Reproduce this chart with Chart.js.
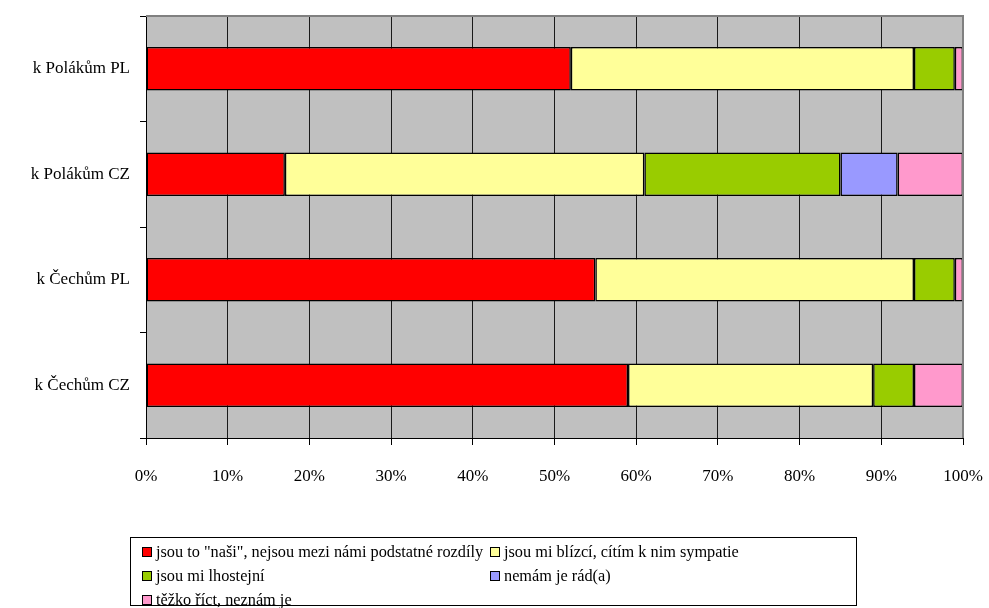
<!DOCTYPE html>
<html>
<head>
<meta charset="utf-8">
<script src="https://cdn.jsdelivr.net/npm/chart.js@4.4.1/dist/chart.umd.min.js"></script>
<style>
  html, body { margin: 0; padding: 0; background: #fff; }
  #wrap { position: relative; width: 989px; height: 608px; }
  #legend {
    position: absolute; left: 130px; top: 537px; width: 727px; height: 69px;
    border: 1px solid #000; box-sizing: border-box;
    display: grid; grid-template-columns: 348px auto; grid-auto-rows: 24px;
    padding: 2px 0 0 11px;
    font-family: "Liberation Serif", "Times New Roman", serif; font-size: 16.3px; color: #000;
  }
  #legend .item { display: flex; align-items: center; white-space: nowrap; overflow: visible; }
  #legend .box { flex: 0 0 auto; width: 8px; height: 8px; border: 1px solid #000; margin-right: 4px; }
</style>
</head>
<body>
<div id="wrap">
  <canvas id="chart" width="989" height="608"></canvas>
  <div id="legend"></div>
</div>
<script>
const categories = ['k Polákům PL', 'k Polákům CZ', 'k Čechům PL', 'k Čechům CZ'];
const seriesNames = [
  'jsou to "naši", nejsou mezi námi podstatné rozdíly',
  'jsou mi blízcí, cítím k nim sympatie',
  'jsou mi lhostejní',
  'nemám je rád(a)',
  'těžko říct, neznám je'
];
const nasi = [52, 17, 55, 59];
const blizci = [42, 44, 39, 30];
const lhostejni = [5, 24, 5, 5];
const nemam = [0, 7, 0, 0];
const tezko = [1, 8, 1, 6];
const colors = ['#ff0000', '#ffff99', '#99cc00', '#9999ff', '#ff99cc'];
const xTicks = [0, 10, 20, 30, 40, 50, 60, 70, 80, 90, 100];

const font = { family: '"Liberation Serif", "Times New Roman", serif', size: 17 };

const plotFrame = {
  id: 'plotFrame',
  beforeDraw(chart) {
    const { ctx, chartArea: a } = chart;
    ctx.save();
    ctx.fillStyle = '#c0c0c0';
    ctx.fillRect(a.left, a.top, a.right - a.left, a.bottom - a.top);
    ctx.restore();
  },
  afterDatasetsDraw(chart) {
    const { ctx, chartArea: a } = chart;
    ctx.save();
    ctx.strokeStyle = '#808080';
    ctx.lineWidth = 2;
    ctx.beginPath();
    ctx.moveTo(a.left, a.top);
    ctx.lineTo(a.right, a.top);
    ctx.lineTo(a.right, a.bottom);
    ctx.stroke();
    ctx.restore();
  }
};

const values = [nasi, blizci, lhostejni, nemam, tezko];

new Chart(document.getElementById('chart'), {
  type: 'bar',
  data: {
    labels: categories,
    datasets: values.map((data, i) => ({
      label: seriesNames[i],
      data,
      backgroundColor: colors[i],
      borderColor: '#000',
      borderWidth: 1.5,
      borderSkipped: false,
      barPercentage: 0.41,
      categoryPercentage: 1
    }))
  },
  options: {
    indexAxis: 'y',
    responsive: false,
    animation: false,
    layout: { padding: { top: 16, right: 26, left: 0, bottom: 120 } },
    plugins: { legend: { display: false }, tooltip: { enabled: false } },
    scales: {
      x: {
        stacked: true,
        min: 0,
        max: 100,
        afterBuildTicks: (scale) => { scale.ticks = xTicks.map((v) => ({ value: v })); },
        afterFit: (scale) => { scale.height = 50; scale.paddingLeft = 0; scale.paddingRight = 0; },
        ticks: { color: '#000', font, padding: 21, maxRotation: 0, callback: (v) => v + '%' },
        grid: { color: '#1a1a1a', lineWidth: 1, tickLength: 7, tickColor: '#000' },
        border: { color: '#000', width: 1 }
      },
      y: {
        stacked: true,
        afterFit: (scale) => { scale.width = 146; scale.paddingTop = 0; scale.paddingBottom = 0; },
        ticks: { color: '#000', font, padding: 10 },
        grid: { offset: true, drawOnChartArea: false, tickLength: 6, tickColor: '#000' },
        border: { color: '#000', width: 1 }
      }
    }
  },
  plugins: [plotFrame]
});

document.getElementById('legend').innerHTML = seriesNames
  .map((name, i) => {
    const col = i === 3 ? 'grid-column: 2;' : (i === 2 || i === 4 ? 'grid-column: 1;' : '');
    return `<div class="item" style="${col}"><span class="box" style="background:${colors[i]}"></span>${name}</div>`;
  })
  .join('');
</script>
</body>
</html>
